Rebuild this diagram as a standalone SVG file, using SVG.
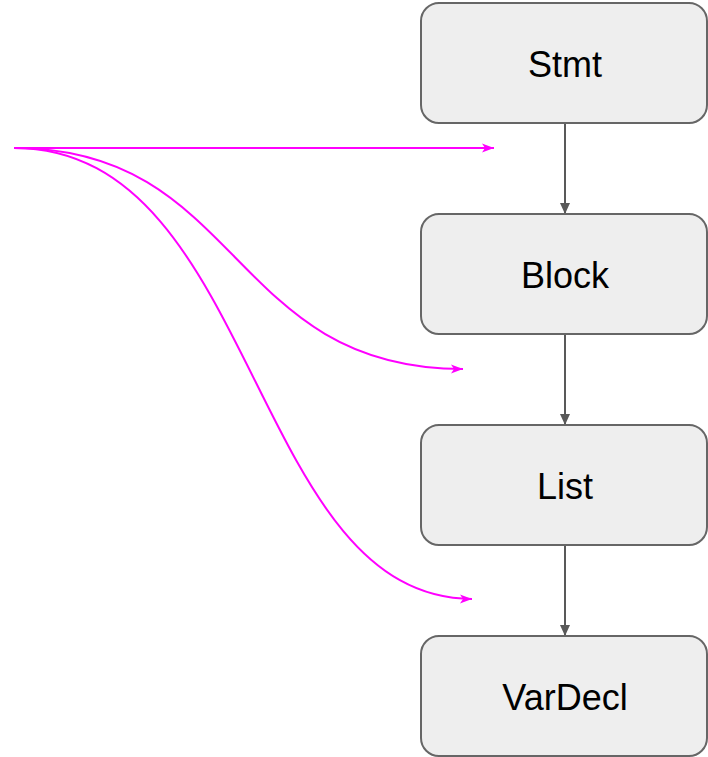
<svg xmlns="http://www.w3.org/2000/svg" width="708" height="757" viewBox="0 0 708 757">
  <style>
    .node rect { fill: #eeeeee; stroke: #666666; stroke-width: 2; }
    .node text { font-family: "Liberation Sans", Arial, sans-serif; font-size: 36px; fill: #000000; text-anchor: middle; }
    .flow { fill: none; stroke: #595959; stroke-width: 2; }
    .link { fill: none; stroke: #ff00ff; stroke-width: 2; }
  </style>
  <defs>
    <marker id="grayHead" markerUnits="userSpaceOnUse" markerWidth="12" markerHeight="12" viewBox="0 0 12 12" refX="11" refY="6" orient="auto">
      <path d="M0,1 L11,6 L0,11 Z" fill="#595959"/>
    </marker>
    <marker id="pinkHead" markerUnits="userSpaceOnUse" markerWidth="14" markerHeight="12" viewBox="0 0 14 12" refX="13" refY="6" orient="auto">
      <path d="M1,1.5 L13,6 L1,10.5 L4,6 Z" fill="#ff00ff"/>
    </marker>
  </defs>

  <g id="connectors">
    <line class="flow" x1="565" y1="123" x2="565" y2="214" marker-end="url(#grayHead)"/>
    <line class="flow" x1="565" y1="334" x2="565" y2="425" marker-end="url(#grayHead)"/>
    <line class="flow" x1="565" y1="545" x2="565" y2="636" marker-end="url(#grayHead)"/>
    <path class="link" d="M14,148 L494,148" marker-end="url(#pinkHead)"/>
    <path class="link" d="M14,148 C243,148 228,369 463,369" marker-end="url(#pinkHead)"/>
    <path class="link" d="M14,148 C259,148 249,598 472,599" marker-end="url(#pinkHead)"/>
  </g>

  <g id="stmt" class="node">
    <rect x="421" y="3" width="286" height="120" rx="18" ry="18"/>
    <text x="565" y="77">Stmt</text>
  </g>
  <g id="block" class="node">
    <rect x="421" y="214" width="286" height="120" rx="18" ry="18"/>
    <text x="565" y="288">Block</text>
  </g>
  <g id="list" class="node">
    <rect x="421" y="425" width="286" height="120" rx="18" ry="18"/>
    <text x="565" y="499">List</text>
  </g>
  <g id="vardecl" class="node">
    <rect x="421" y="636" width="286" height="120" rx="18" ry="18"/>
    <text x="565" y="710">VarDecl</text>
  </g>
</svg>
